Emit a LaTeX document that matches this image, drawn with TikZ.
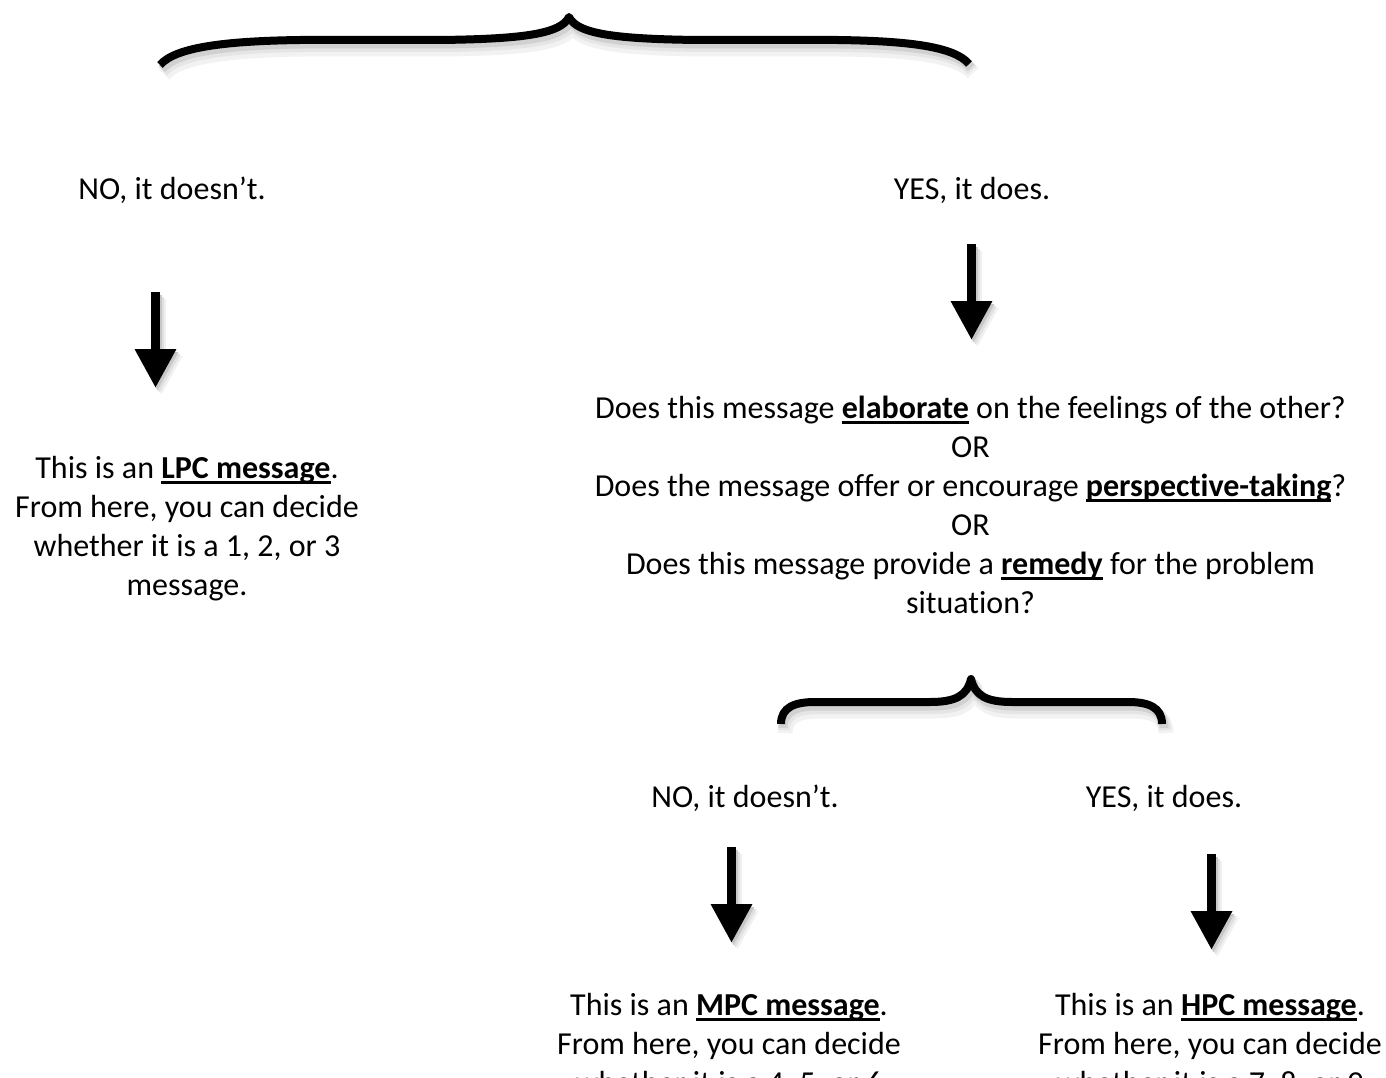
\documentclass[tikz,border=0pt]{standalone}
\usepackage{fontspec}
\setmainfont{Carlito}[Ligatures=NoCommon]
\usetikzlibrary{arrows.meta}

% bold, underlined keyword with a rule just under the baseline
\newcommand\ulword[1]{\setbox0\hbox{\bfseries #1}\rlap{\rule[-5.5pt]{\wd0}{2.8pt}}\box0\relax}

% top brace (centre line of the stroke)
\newcommand\topbrace[1]{\draw[#1] (160,65) .. controls (176,46) and (232,41) .. (300,40)
  -- (440,40) .. controls (522,39) and (561,34) .. (569,17)
  .. controls (577,34) and (616,39) .. (698,40) -- (838,40)
  .. controls (906,41) and (954,46) .. (969,64);}

% lower brace
\newcommand\lowbrace[1]{\draw[#1] (781,724) .. controls (781,707) and (795,702) .. (815,702)
  -- (930,702) .. controls (955,702) and (967,696) .. (971,679)
  .. controls (975,696) and (987,702) .. (1012,702) -- (1128,702)
  .. controls (1148,702) and (1162,707) .. (1162,724);}

\tikzset{
  txt/.style={font=\fontsize{32}{39}\selectfont, inner sep=0pt, align=flush center},
  bracestroke/.style={line width=8pt, line join=round, line cap=butt},
  flowarrow/.style={line width=9.5pt, -{Triangle[length=39pt,width=39pt]}},
}

% down arrow with a soft drop shadow
\newcommand\shadedarrow[2]{%
  \draw[flowarrow, black!6]  ([shift={(6,7)}]#1) -- ([shift={(6,7)}]#2);
  \draw[flowarrow, black!12] ([shift={(4,5)}]#1) -- ([shift={(4,5)}]#2);
  \draw[flowarrow, black!22] ([shift={(2,3)}]#1) -- ([shift={(2,3)}]#2);
  \draw[flowarrow, black] (#1) -- (#2);}

\begin{document}
\begin{tikzpicture}[x=1pt, y=-1pt]
\useasboundingbox (0,0) rectangle (1386,1078);
\clip (0,0) rectangle (1386,1078);
\fill[white] (0,0) rectangle (1386,1078);

% braces with their shadows
\topbrace{bracestroke, shift={(4,9)}, line width=15pt, draw=black!5}
\topbrace{bracestroke, shift={(3,6)}, line width=12pt, draw=black!10}
\topbrace{bracestroke, shift={(2,4)}, line width=9pt, draw=black!18}
\topbrace{bracestroke, draw=black}

\lowbrace{bracestroke, shift={(4,9)}, line width=15pt, draw=black!5}
\lowbrace{bracestroke, shift={(3,6)}, line width=12pt, draw=black!10}
\lowbrace{bracestroke, shift={(2,4)}, line width=9pt, draw=black!18}
\lowbrace{bracestroke, draw=black}

% first answer row
\node[txt, anchor=base] (noTop) at (172,200) {NO, it doesn’t.};
\node[txt, anchor=base] (yesTop) at (972,200) {YES, it does.};

% arrow end points
\coordinate (lpcA) at (155.5,292);
\coordinate (lpcB) at (155.5,388);
\coordinate (qA) at (971.5,244);
\coordinate (qB) at (971.5,340);
\coordinate (mpcA) at (731.5,847);
\coordinate (mpcB) at (731.5,943);
\coordinate (hpcA) at (1211.5,854);
\coordinate (hpcB) at (1211.5,950);

\shadedarrow{lpcA}{lpcB}
\shadedarrow{qA}{qB}
\shadedarrow{mpcA}{mpcB}
\shadedarrow{hpcA}{hpcB}

% LPC result
\node[txt, anchor=north] (lpc) at (187,456) {This is an \ulword{LPC message}.\\
  From here, you can decide\\ whether it is a 1, 2, or 3\\ message.};

% follow-up question
\node[txt, anchor=north, text width=790pt] (question) at (970.5,396) {%
  Does this message \ulword{elaborate} on the feelings of the other?\\
  OR\\
  Does the message offer or encourage \ulword{perspective-taking}?\\
  OR\\
  Does this message provide a \ulword{remedy} for the problem situation?};

% second answer row
\node[txt, anchor=base] (noLow) at (745,807) {NO, it doesn’t.};
\node[txt, anchor=base] (yesLow) at (1164,807) {YES, it does.};

% MPC and HPC results
\node[txt, anchor=north] (mpc) at (729,993) {This is an \ulword{MPC message}.\\
  From here, you can decide\\ whether it is a 4, 5, or 6\\ message.};
\node[txt, anchor=north] (hpc) at (1210,993) {This is an \ulword{HPC message}.\\
  From here, you can decide\\ whether it is a 7, 8, or 9\\ message.};
\end{tikzpicture}
\end{document}
